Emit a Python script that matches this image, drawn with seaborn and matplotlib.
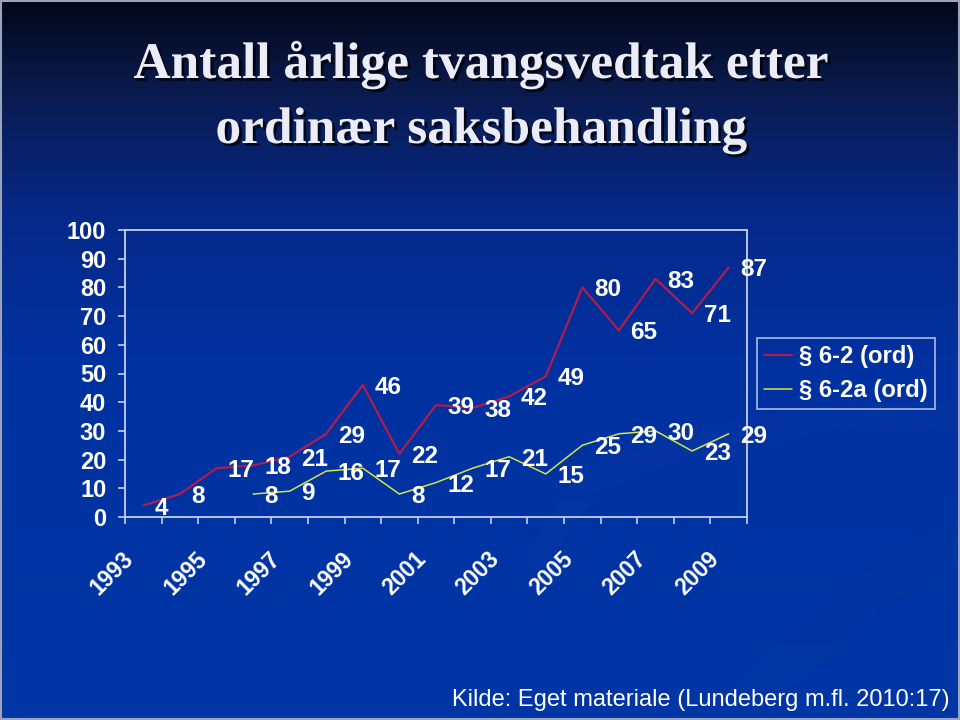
import numpy as np
import pandas as pd
import matplotlib
matplotlib.use("Agg")
import matplotlib.pyplot as plt
import seaborn as sns
import matplotlib.patheffects as pe
from matplotlib.colors import LinearSegmentedColormap
from matplotlib.transforms import ScaledTranslation
from matplotlib.lines import Line2D
from matplotlib.patches import Rectangle, Polygon

# ---------------- data ----------------
years_62 = list(range(1993, 2010))
values_62 = [4, 8, 17, 18, 21, 29, 46, 22, 39, 38, 42, 49, 80, 65, 83, 71, 87]
years_62a = list(range(1996, 2010))
values_62a = [8, 9, 16, 17, 8, 12, 17, 21, 15, 25, 29, 30, 23, 29]
series_names = ["§ 6-2 (ord)", "§ 6-2a (ord)"]
year_ticks = [1993, 1995, 1997, 1999, 2001, 2003, 2005, 2007, 2009]
year_ticklabels = ["1993", "1995", "1997", "1999", "2001", "2003", "2005", "2007", "2009"]
y_ticks = [0, 10, 20, 30, 40, 50, 60, 70, 80, 90, 100]
title_lines = ["Antall årlige tvangsvedtak etter", "ordinær saksbehandling"]
source_text = "Kilde: Eget materiale (Lundeberg m.fl. 2010:17)"

df62 = pd.DataFrame({"year": years_62, "value": values_62, "series": series_names[0]})
df62a = pd.DataFrame({"year": years_62a, "value": values_62a, "series": series_names[1]})

# ---------------- style ----------------
sns.set_theme(style="white")
plt.rcParams["font.family"] = ["Liberation Sans", "DejaVu Sans"]

RED = "#b01c4e"
YELLOW = "#d2e44a"
AXC = "#c4d0ec"
W, H = 960, 720

fig = plt.figure(figsize=(9.6, 7.2), dpi=100)

# background gradient
bg = fig.add_axes([0, 0, 1, 1], zorder=-10)
cmap = LinearSegmentedColormap.from_list(
    "bg", [(0.0, "#020719"), (0.12, "#0a1a4c"), (0.3, "#05298a"),
           (0.5, "#0131a0"), (1.0, "#0036a6")])
grad = np.linspace(0, 1, 400).reshape(-1, 1)
bg.imshow(grad, aspect="auto", cmap=cmap, extent=[0, 1, 0, 1], origin="upper")
# faint decorative swooshes (pixel coords -> fractions)
def frac(pts):
    return [(x / W, 1 - y / H) for x, y in pts]
bg.add_patch(Polygon(frac([(520, 560), (580, 470), (700, 425), (830, 405), (960, 400),
                           (960, 430), (830, 430), (700, 450), (600, 490), (540, 570)]),
                     closed=True, facecolor="#3050b0", alpha=0.08, lw=0))
bg.add_patch(Polygon(frac([(700, 720), (780, 640), (880, 560), (960, 520),
                           (960, 560), (880, 610), (800, 680), (740, 720)]),
                     closed=True, facecolor="#1040a0", alpha=0.15, lw=0))
bg.add_patch(Rectangle((0.001, 0.001), 0.998, 0.997, fill=False,
                       edgecolor="#9aa4b8", lw=1.5, transform=bg.transAxes))
bg.set_xlim(0, 1); bg.set_ylim(0, 1)
bg.axis("off")

# main axes
ax = fig.add_axes([125 / W, 1 - 517 / H, (747 - 125) / W, (517 - 230) / H])
ax.patch.set_alpha(0)

sns.lineplot(data=df62, x="year", y="value", color=RED, lw=1.6, ax=ax,
             legend=False, solid_joinstyle="round")
sns.lineplot(data=df62a, x="year", y="value", color=YELLOW, lw=1.1, ax=ax,
             legend=False, solid_joinstyle="round")

lab_kw = dict(textcoords="offset points", xytext=(8.3, 0), ha="left",
              va="center_baseline", color="white", fontsize=17.5, fontweight="bold")
for x, v in zip(years_62, values_62):
    ax.annotate(str(v), (x, v), **lab_kw)
for x, v in zip(years_62a, values_62a):
    ax.annotate(str(v), (x, v), **lab_kw)

ax.set_xlim(1992.5, 2009.5)
ax.set_ylim(0, 100)
ax.set_xlabel("")
ax.set_ylabel("")

# x ticks: boundaries as major, labels on minor
ax.set_xticks(np.arange(1992.5, 2010, 1.0))
ax.set_xticklabels([])
ax.set_xticks(year_ticks, minor=True)
ax.set_xticklabels(year_ticklabels, minor=True, rotation=45, ha="right", va="top",
                   fontsize=16.5, fontweight="bold", color="white")
ax.tick_params(axis="x", which="major", direction="out", length=5, width=1.2, color=AXC,
               bottom=True)
ax.tick_params(axis="x", which="minor", length=0, pad=22, bottom=True)
for lbl in ax.get_xticklabels(minor=True):
    lbl.set_transform(lbl.get_transform() + ScaledTranslation(-5 / 100, 0, fig.dpi_scale_trans))

ax.set_yticks(y_ticks)
ax.set_yticklabels([str(t) for t in y_ticks], fontsize=17, fontweight="bold", color="white")
ax.tick_params(axis="y", direction="out", length=5, width=1.2, color=AXC, pad=8.5, left=True)

for s in ax.spines.values():
    s.set_visible(True)
    s.set_color(AXC)
    s.set_linewidth(1.3)

# legend
handles = [Line2D([], [], color=RED, lw=1.6), Line2D([], [], color=YELLOW, lw=1.1)]
leg = fig.legend(handles, series_names, loc="upper left",
                 bbox_to_anchor=(757 / W, 1 - 338 / H), borderaxespad=0,
                 frameon=True, fancybox=False, handlelength=1.15, handletextpad=0.3,
                 borderpad=0.3, labelspacing=0.45,
                 prop={"size": 17.2, "weight": "bold", "family": "Liberation Sans"})
leg.get_frame().set_facecolor("none")
leg.get_frame().set_edgecolor(AXC)
leg.get_frame().set_linewidth(1.3)
for t in leg.get_texts():
    t.set_color("white")

# title
shadow = [pe.SimplePatchShadow(offset=(2, -2), shadow_rgbFace="black", alpha=0.75), pe.Normal()]
fig.text(481 / W, 1 - 78 / H, title_lines[0], ha="center", va="baseline",
         fontsize=37, fontweight="bold", family="Liberation Serif", color="#ececf8",
         path_effects=shadow)
fig.text(481 / W, 1 - 143 / H, title_lines[1], ha="center", va="baseline",
         fontsize=37, fontweight="bold", family="Liberation Serif", color="#ececf8",
         path_effects=shadow)

fig.text(950 / W, 1 - 700 / H, source_text, ha="right", va="center",
         fontsize=17, color="white")

fig.savefig("out.png", dpi=100)
